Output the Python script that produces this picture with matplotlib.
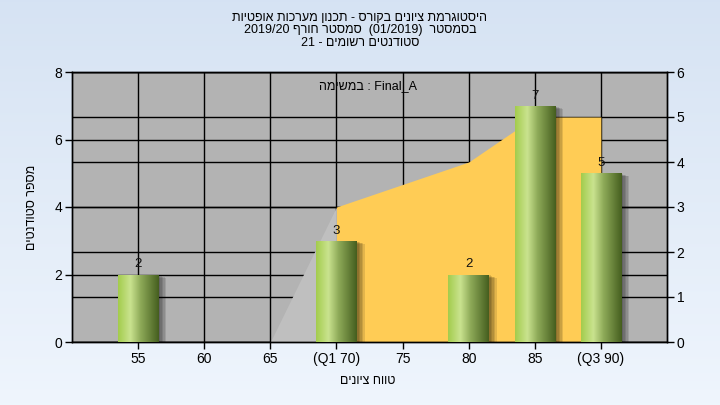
import numpy as np
import matplotlib
matplotlib.use('Agg')
import matplotlib.pyplot as plt
from matplotlib import transforms
from matplotlib.colors import LinearSegmentedColormap

plt.rcParams['font.family'] = ['Liberation Sans', 'DejaVu Sans']

# ---------------- data ----------------
categories = [55, 60, 65, 70, 75, 80, 85, 90]
tick_labels = ['55', '60', '65', '(Q1 70)', '75', '80', '85', '(Q3 90)']
bar_x = [55, 70, 80, 85, 90]
bar_counts = [2, 3, 2, 7, 5]
gray_area_x = [65, 70]
gray_area_y = [0, 3]
yellow_area_x = [70, 75, 80, 85, 90]
yellow_area_y = [3, 3.5, 4, 5, 5]
left_ticks = [0, 2, 4, 6, 8]
right_ticks = [0, 1, 2, 3, 4, 5, 6]

title_lines = ['היסטוגרמת ציונים בקורס - תכנון מערכות אופטיות',
               'בסמסטר  (01/2019)  סמסטר חורף 2019/20',
               'סטודנטים רשומים - 21']
x_label = 'טווח ציונים'
y_label = 'מספר סטודנטים'
note_label = 'Final_A : במשימה'


def vis(s):
    """Simple visual ordering for an RTL paragraph."""
    toks = s.split(' ')[::-1]
    out = []
    for t in toks:
        if any('\u0590' <= c <= '\u05FF' for c in t):
            out.append(t[::-1])
        else:
            out.append(t)
    return ' '.join(out)


fig = plt.figure(figsize=(7.2, 4.05), dpi=100)

# background gradient
bgax = fig.add_axes([0, 0, 1, 1], zorder=-10)
bg_cmap = LinearSegmentedColormap.from_list('bg', [(0.937, 0.961, 0.992), (0.839, 0.890, 0.953)])
bgax.imshow(np.linspace(0, 1, 256).reshape(-1, 1), aspect='auto', cmap=bg_cmap,
            extent=[0, 1, 0, 1], origin='lower')
bgax.axis('off')

ax = fig.add_axes([72 / 720, 1 - 342 / 405, 595 / 720, 270 / 405])
ax.set_facecolor('#b3b3b3')
ax2 = ax.twinx()

# right scale (primary axes)
ax.yaxis.tick_right()
ax.set_yticks(right_ticks)
ax.set_xticks(categories, tick_labels)
ax.grid(True, color='black', lw=1.0)
ax.set_axisbelow(True)

tr = transforms.blended_transform_factory(ax.transAxes, ax2.transData)
for t in left_ticks:
    ax.plot([0, 1], [t, t], transform=tr, color='black', lw=1.0, zorder=0.5)

ax.fill_between(gray_area_x, gray_area_y, color='#bfbfbf', lw=0, zorder=2)
ax.fill_between(yellow_area_x, yellow_area_y, color='#ffcc55', lw=0, zorder=2)

# bars (left scale)
width = 3.06
for d in [2, 3.5, 5, 6.5, 8]:
    sh = ax2.bar(bar_x, bar_counts, width, color='black', alpha=0.11, lw=0, zorder=2)
    for p in sh:
        p.set_transform(ax2.transData + transforms.ScaledTranslation(d / 100, -d / 250, fig.dpi_scale_trans))

bar_cmap = LinearSegmentedColormap.from_list('barg', [
    (0.00, (0.64, 0.80, 0.30)),
    (0.30, (0.79, 0.89, 0.56)),
    (0.55, (0.56, 0.67, 0.35)),
    (1.00, (0.27, 0.37, 0.12))])
bars = ax2.bar(bar_x, bar_counts, width, color='none', lw=0, zorder=3)
grad = np.linspace(0, 1, 128).reshape(1, -1)
for p in bars:
    x0, y0 = p.get_x(), p.get_y()
    im = ax2.imshow(grad, aspect='auto', cmap=bar_cmap, zorder=3,
                    extent=[x0, x0 + p.get_width(), y0, y0 + p.get_height()])
    im.set_clip_path(p)

for x, v in zip(bar_x, bar_counts):
    ax2.annotate(str(v), (x, v), xytext=(0, 3), textcoords='offset points',
                 ha='center', va='bottom', fontsize=9.5, color='#111111')

ax2.yaxis.tick_left()
ax2.yaxis.set_label_position('left')
ax2.set_yticks(left_ticks)
ax2.set_ylim(0, 8)
ax.set_ylim(0, 6)
ax.set_xlim(50, 95)
ax2.set_xlim(50, 95)

for a in (ax, ax2):
    a.tick_params(axis='both', length=5, width=1, labelsize=10, pad=2, colors='black')
    for s in a.spines.values():
        s.set_color('black')
        s.set_linewidth(1)

ax2.set_ylabel(vis(y_label), fontsize=9)
ax2.yaxis.set_label_coords(-0.057, 0.5)

ax.text(0.497, 0.948, vis(note_label), transform=ax.transAxes, ha='center', va='center', fontsize=9)

fig.text(368 / 720, 1 - 381 / 405, vis(x_label), ha='center', va='center', fontsize=9)
for line, ypx in zip(title_lines, [18, 30, 43]):
    fig.text(0.5, 1 - ypx / 405, vis(line), ha='center', va='center', fontsize=9)

fig.savefig('out.png', dpi=100)
